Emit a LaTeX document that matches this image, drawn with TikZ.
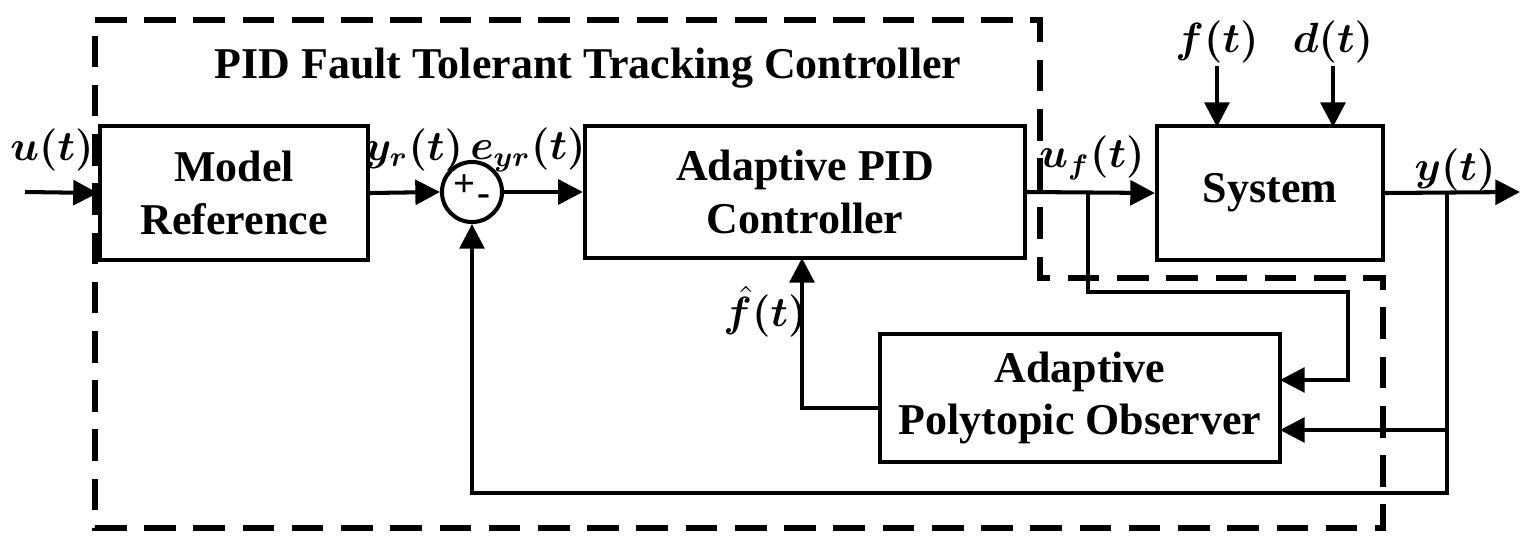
\documentclass[tikz,border=0pt]{standalone}
\usepackage{bm}
\usepackage{fontspec}
\setmainfont{Liberation Serif}
\usetikzlibrary{arrows.meta}
\begin{document}
\begin{tikzpicture}[x=0.01cm,y=-0.01cm,line width=1.15pt,
txt/.style={font=\fontsize{12.5}{15}\selectfont\bfseries,align=center,inner sep=0pt},
blk/.style={txt,shape=rectangle,draw=black},
sig/.style={font=\fontsize{11.5}{14}\selectfont,inner sep=1pt},
ar/.style={-{Triangle[length=7pt,width=7pt]}}]
\useasboundingbox (0,0) rectangle (1532,551);

\draw[line width=1.5pt,dash pattern=on 9pt off 5pt] (95,20) -- (1040,20) -- (1040,278) -- (1383,278) -- (1383,528) -- (95,528) -- cycle;
\node[txt] (title) at (588,68) {PID Fault Tolerant Tracking Controller};

\node[blk,minimum width=2.68cm,minimum height=1.33cm] (MR) at (234,193) {Model\\Reference};
\node[blk,shape=circle,minimum size=0.6cm] (S) at (472,192) {};
\node[txt,font=\fontsize{11}{12}\selectfont\bfseries] (Sp) at (465,186) {+};
\node[txt,font=\fontsize{11}{12}\selectfont\bfseries] (Sm) at (484,200) {-};
\node[blk,minimum width=4.4cm,minimum height=1.31cm] (PID) at (805,192) {Adaptive PID\\Controller};
\node[blk,minimum width=2.26cm,minimum height=1.33cm] (Sys) at (1270,193) {System};
\node[blk,minimum width=4cm,minimum height=1.27cm] (Obs) at (1080,398) {Adaptive\\Polytopic Observer};

\node[sig] (u) at (52,150) {$\bm{u(t)}$};
\node[sig] (yr) at (414,150) {$\bm{y_r(t)}$};
\node[sig] (eyr) at (528,150) {$\bm{e_{yr}(t)}$};
\node[sig] (uf) at (1092,158) {$\bm{u_f(t)}$};
\node[sig] (y) at (1455,170) {$\bm{y(t)}$};
\node[sig] (f) at (1217,42) {$\bm{f(t)}$};
\node[sig] (d) at (1333,42) {$\bm{d(t)}$};
\node[sig] (fh) at (765,312) {$\bm{\hat f(t)}$};

\coordinate (uin) at (25,192);
\coordinate (yout) at (1520,192);
\coordinate (ufb) at (1088,192);
\coordinate (yb) at (1447,192);

\draw[ar] (uin) -- (MR.west);
\draw[ar] (MR.east) -- (S.west);
\draw[ar] (S.east) -- (PID.west);
\draw[ar] (PID.east) -- (Sys.west);
\draw[ar] (Sys.east) -- (yout);
\draw[ar] (1217,66) -- (1217,127);
\draw[ar] (1333,66) -- (1333,127);
\draw[ar] (ufb) -- (1088,292) -- (1348,292) -- (1348,380) -- (1280,380);
\draw[ar] (yb) -- (1447,430) -- (1280,430);
\draw[ar] (1447,430) -- (1447,493) -- (472,493) -- (S.south);
\draw[ar] (880,408) -- (802,408) -- (802,258);
\end{tikzpicture}
\end{document}
